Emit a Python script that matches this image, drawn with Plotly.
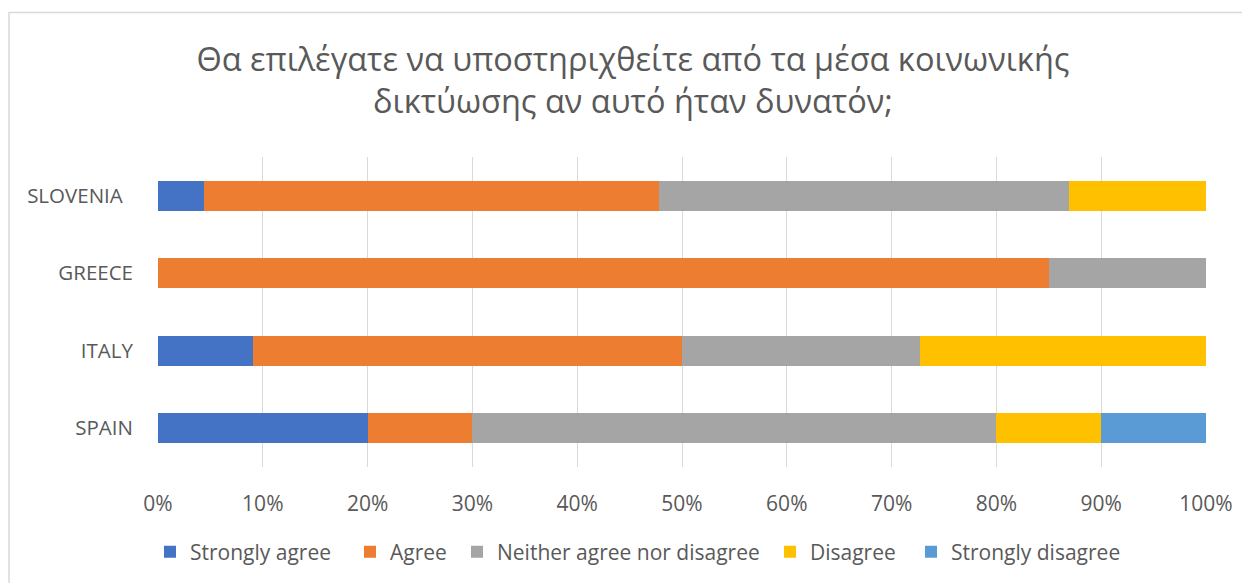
import plotly.graph_objects as go

countries = ["SPAIN", "ITALY", "GREECE", "SLOVENIA\u2002"]
series_names = ["Strongly agree", "Agree", "Neither agree nor disagree", "Disagree", "Strongly disagree"]
strongly_agree = [20.0, 9.09, 0.0, 4.35]
agree = [10.0, 40.91, 85.0, 43.48]
neither = [50.0, 22.73, 15.0, 39.13]
disagree = [10.0, 27.27, 0.0, 13.04]
strongly_disagree = [10.0, 0.0, 0.0, 0.0]
tick_values = [0, 10, 20, 30, 40, 50, 60, 70, 80, 90, 100]
tick_labels = ["0%", "10%", "20%", "30%", "40%", "50%", "60%", "70%", "80%", "90%", "100%"]
title_text = "Θα επιλέγατε να υποστηριχθείτε από τα μέσα κοινωνικής<br>δικτύωσης αν αυτό ήταν δυνατόν;"

colors = ["#4472C4", "#ED7D31", "#A5A5A5", "#FFC000", "#5B9BD5"]
all_series = [strongly_agree, agree, neither, disagree, strongly_disagree]

FONT = "Open Sans"
GREY = "#595959"

# page has an 8px body margin; work in page coordinates and shift
OFF = 8
PAGE_W, PAGE_H = 1250, 583
W, H = PAGE_W - OFF, PAGE_H - OFF
L = 158 - OFF
R = PAGE_W - 1206
T = 157 - OFF
B = PAGE_H - 467
pw, ph = W - L - R, H - T - B

def px_x(x):
    return (x - OFF - L) / pw

def px_y(y):
    return (H - B - (y - OFF)) / ph

fig = go.Figure()
legend_marker_x = [166, 366, 473, 786, 927]
LEG_OFF = 16
legend_defs = {}
for i, (name, vals, col) in enumerate(zip(series_names, all_series, colors)):
    key = "legend" if i == 0 else f"legend{i + 1}"
    fig.add_trace(go.Bar(
        y=countries, x=vals, name=name, orientation="h",
        marker=dict(color=col, line=dict(width=0)),
        hoverinfo="skip", legend=key,
    ))
    legend_defs[key] = dict(
        orientation="h", xref="container", yref="container",
        x=(legend_marker_x[i] - OFF - LEG_OFF) / W, xanchor="left",
        y=1 - (552 - OFF) / H, yanchor="middle",
        font=dict(family=FONT, size=21, color=GREY),
        itemwidth=30, itemclick=False, itemdoubleclick=False,
        bgcolor="rgba(0,0,0,0)",
    )

fig.add_shape(type="rect", xref="paper", yref="paper",
              x0=px_x(9), x1=px_x(1275), y0=px_y(600), y1=px_y(12.5),
              line=dict(color="#D9D9D9", width=1.5), fillcolor="rgba(0,0,0,0)", layer="below")

fig.update_layout(
    width=W, height=H,
    barmode="stack", bargap=0.61,
    margin=dict(l=L, r=R, t=T, b=B, pad=0),
    paper_bgcolor="white", plot_bgcolor="white",
    font=dict(family=FONT, color=GREY, size=21),
    title=dict(text=title_text, x=(638 - OFF - 5) / W, xref="container", xanchor="center",
               y=1 - 62.5 / H, yref="container", yanchor="middle",
               font=dict(family=FONT, size=32.5, color=GREY)),
    showlegend=True,
    xaxis=dict(range=[0, 100], tickmode="array", tickvals=tick_values, ticktext=tick_labels,
               showgrid=True, gridcolor="#D9D9D9", gridwidth=1.3,
               zeroline=False, showline=False, ticks="",
               ticklabelstandoff=22, fixedrange=True,
               tickfont=dict(family=FONT, size=21, color=GREY)),
    yaxis=dict(categoryorder="array", categoryarray=countries,
               showgrid=False, zeroline=False, showline=False, ticks="",
               ticklabelstandoff=24, fixedrange=True,
               tickfont=dict(family=FONT, size=20.5, color=GREY)),
    **legend_defs,
)

fig.write_html("out.html")
